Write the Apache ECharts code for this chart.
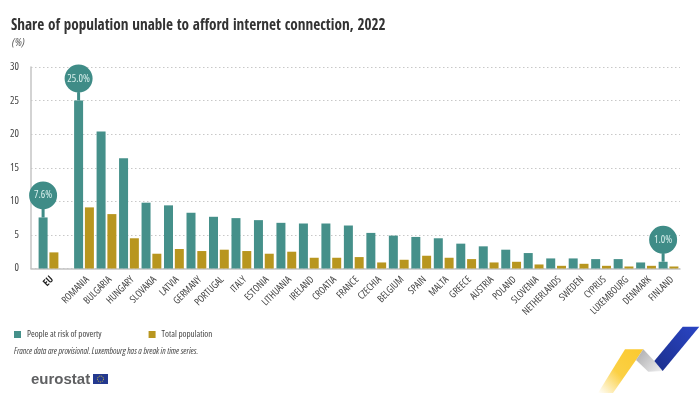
<!DOCTYPE html>
<html><head><meta charset="utf-8">
<style>html,body{margin:0;padding:0;background:#fff}#c{width:700px;height:394px}</style>
<script src="https://cdn.jsdelivr.net/npm/echarts@6/dist/echarts.min.js"></script></head>
<body><div id="c"></div>
<script>
const euCategories = ['EU'];
const euPoverty = [7.6];
const euTotal = [2.4];
const categories = ['ROMANIA','BULGARIA','HUNGARY','SLOVAKIA','LATVIA','GERMANY','PORTUGAL','ITALY','ESTONIA','LITHUANIA','IRELAND','CROATIA','FRANCE','CZECHIA','BELGIUM','SPAIN','MALTA','GREECE','AUSTRIA','POLAND','SLOVENIA','NETHERLANDS','SWEDEN','CYPRUS','LUXEMBOURG','DENMARK','FINLAND'];
const poverty = [25.0,20.4,16.4,9.8,9.4,8.3,7.7,7.5,7.2,6.8,6.7,6.7,6.4,5.3,4.9,4.7,4.5,3.7,3.3,2.8,2.3,1.5,1.5,1.4,1.4,0.9,1.0];
const total = [9.1,8.1,4.5,2.2,2.9,2.6,2.8,2.6,2.2,2.5,1.6,1.6,1.7,0.9,1.3,1.9,1.6,1.4,0.9,1.0,0.6,0.4,0.7,0.4,0.3,0.4,0.3];
const yTicks = {min:0,max:30,interval:5};

const TEAL='#45908a', GOLD='#b8961f', TXT='#444';
const NARROW={fontFamily:'"Open Sans"',fontWeight:'condensed'};
const PIN='path://M0 14A14 14 0 1 1 28 14A14 14 0 1 1 0 14ZM12.5 27H15.5V36H12.5Z';
const pin=(cat,val)=>({coord:[cat,val],value:val.toFixed(1)+'%',symbol:PIN,symbolSize:[28,36],symbolOffset:[0,-18],
  itemStyle:{color:'#3f8c87'},label:{show:true,position:'inside',offset:[0,-4],formatter:'{c}',color:'#d8efec',...NARROW,fontSize:10.5}});
const gTop=67,gBottom=125.5;
const barBase={type:'bar',barWidth:9,barGap:'20%',silent:true};
const opt={
  animation:false,backgroundColor:'#fff',
  title:[
    {text:'Share of population unable to afford internet connection, 2022',left:6,top:14,textStyle:{fontFamily:'"Open Sans Condensed"',fontSize:15.2,fontWeight:'normal',color:'#333'}},
    {text:'(%)',left:7,top:32,textStyle:{...NARROW,fontSize:11.5,fontStyle:'italic',color:'#555'}},
    {text:'France data are provisional. Luxembourg has a break in time series.',left:9,top:342,textStyle:{...NARROW,fontSize:8.6,fontStyle:'italic',color:'#444'}}
  ],
  legend:{left:9,top:325,itemWidth:7,itemHeight:7,itemGap:47,icon:'rect',data:['People at risk of poverty','Total population'],
    textStyle:{...NARROW,fontSize:9,color:TXT,padding:[0,0,0,1]},selectedMode:false},
  grid:[
    {left:31,right:20,top:gTop,bottom:gBottom},
    {left:37.26,width:22.48,top:gTop,bottom:gBottom},
    {left:72.76,width:607,top:gTop,bottom:gBottom}
  ],
  xAxis:[
    {type:'category',gridIndex:0,data:[''],axisLine:{lineStyle:{color:'#c4c4c4',width:1.5}},axisTick:{show:false},axisLabel:{show:false}},
    {type:'category',gridIndex:1,data:euCategories,axisLine:{show:false},axisTick:{show:false},
      axisLabel:{rotate:45,margin:6,verticalAlign:'top',interval:0,fontFamily:'"Open Sans Condensed"',fontSize:10,color:'#222'}},
    {type:'category',gridIndex:2,data:categories,axisLine:{show:false},axisTick:{show:false},
      axisLabel:{rotate:45,margin:6,verticalAlign:'top',interval:0,...NARROW,fontSize:10,color:TXT}}
  ],
  yAxis:[
    {type:'value',gridIndex:0,...yTicks,axisLine:{show:true,lineStyle:{color:'#c4c4c4',width:1.5}},axisTick:{show:false},
      axisLabel:{margin:12,...NARROW,fontSize:10.5,color:TXT},splitLine:{lineStyle:{type:[1.5,2.5],color:'#c8c8c8'}}},
    {type:'value',gridIndex:1,...yTicks,show:false,splitLine:{show:false}},
    {type:'value',gridIndex:2,...yTicks,show:false,splitLine:{show:false}}
  ],
  series:[
    {...barBase,name:'People at risk of poverty',xAxisIndex:1,yAxisIndex:1,data:euPoverty,itemStyle:{color:TEAL},
      markPoint:{silent:true,data:[pin(euCategories[0],euPoverty[0])]}},
    {...barBase,name:'Total population',xAxisIndex:1,yAxisIndex:1,data:euTotal,itemStyle:{color:GOLD}},
    {...barBase,name:'People at risk of poverty',xAxisIndex:2,yAxisIndex:2,data:poverty,itemStyle:{color:TEAL},
      markPoint:{silent:true,data:[pin(categories[0],poverty[0]),pin(categories[26],poverty[26])]}},
    {...barBase,name:'Total population',xAxisIndex:2,yAxisIndex:2,data:total,itemStyle:{color:GOLD}}
  ],
  graphic:[
    {type:'text',left:31,top:372,style:{text:'eurostat',fontFamily:'"Liberation Sans",sans-serif',fontWeight:'bold',fontSize:15,fill:'#5f6062'}},
    {type:'rect',shape:{x:93,y:374,width:15,height:10},style:{fill:'#24398f'}},
    {type:'circle',shape:{cx:100.5,cy:379,r:3},style:{fill:'none',stroke:'#d9c83a',lineWidth:1,lineDash:[1,1]}},
    {type:'polygon',shape:{points:[[625,349.3],[643.3,349.3],[636,360],[613,393],[598,393]]},
      style:{fill:{type:'linear',x:1,y:0,x2:0,y2:1,colorStops:[{offset:0,color:'#fbc92e'},{offset:0.55,color:'#fbd044'},{offset:1,color:'#ffffff'}]}}},
    {type:'polygon',shape:{points:[[643.3,349.3],[654.3,361],[662.7,371],[648.3,371.7],[636,360]]},
      style:{fill:{type:'linear',x:0,y:0,x2:1,y2:1,colorStops:[{offset:0,color:'#a9a9ab'},{offset:1,color:'#efeff0'}]}}},
    {type:'polygon',shape:{points:[[682.7,326.7],[699.3,326.7],[662.7,371],[654.3,361]]},
      style:{fill:{type:'linear',x:1,y:0,x2:0,y2:1,colorStops:[{offset:0,color:'#2a45c4'},{offset:1,color:'#1c2f8c'}]}}}
  ]
};
echarts.init(document.getElementById('c'),null,{renderer:'canvas'}).setOption(opt);
</script></body></html>
